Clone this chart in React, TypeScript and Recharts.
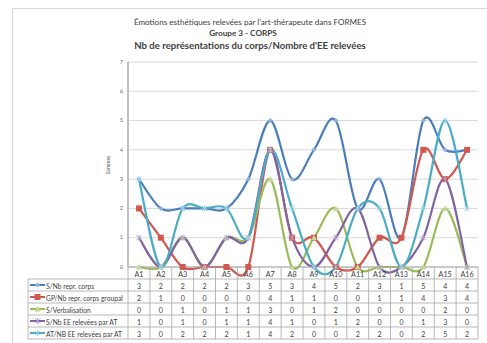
import React from 'react';
import { LineChart, Line, XAxis, YAxis, CartesianGrid } from 'recharts';

const categories = ['A1', 'A2', 'A3', 'A4', 'A5', 'A6', 'A7', 'A8', 'A9', 'A10', 'A11', 'A12', 'A13', 'A14', 'A15', 'A16'];
const nbReprCorps = [3, 2, 2, 2, 2, 3, 5, 3, 4, 5, 2, 3, 1, 5, 4, 4];
const nbReprCorpsGroupal = [2, 1, 0, 0, 0, 0, 4, 1, 1, 0, 0, 1, 1, 4, 3, 4];
const verbalisation = [0, 0, 1, 0, 1, 1, 3, 0, 1, 2, 0, 0, 0, 0, 2, 0];
const nbEeSujet = [1, 0, 1, 0, 1, 1, 4, 1, 0, 1, 2, 0, 0, 1, 3, 0];
const nbEeAt = [3, 0, 2, 2, 2, 1, 4, 2, 0, 0, 2, 2, 0, 2, 5, 2];
const yTicks = [0, 1, 2, 3, 4, 5, 6, 7];

const series = [
  { key: 'corps', name: 'S/Nb repr. corps', values: nbReprCorps, color: '#4A7EBB', light: '#8fb0dc', marker: 'diamond' },
  { key: 'groupal', name: 'GP/Nb repr. corps groupal', values: nbReprCorpsGroupal, color: '#D0584F', light: '#D0584F', marker: 'square' },
  { key: 'verbal', name: 'S/Verbalisation', values: verbalisation, color: '#9BBB59', light: '#c2d896', marker: 'triangle' },
  { key: 'eeSujet', name: 'S/Nb EE relevées par AT', values: nbEeSujet, color: '#8064A2', light: '#b39fcc', marker: 'star' },
  { key: 'eeAt', name: 'AT/NB EE relevées par AT', values: nbEeAt, color: '#4BACC6', light: '#98d3e3', marker: 'star' },
];

const data = categories.map((cat, i) => {
  const row: any = { cat };
  series.forEach((s) => { row[s.key] = s.values[i]; });
  return row;
});

// layout
const W = 487;
const H = 343;
const PLOT_LEFT = 128;
const PLOT_RIGHT = 478;
const PLOT_TOP = 62;
const AXIS_Y = 267;
const CAT_ROW_BOTTOM = 279;
const ROW_H = 12;
const TABLE_LEFT = 28;
const BAND = (PLOT_RIGHT - PLOT_LEFT) / categories.length;
const TABLE_BOTTOM = CAT_ROW_BOTTOM + ROW_H * series.length;
const GRID = '#a6a6a6';
const FONT = 'Lato, "Open Sans", sans-serif';

// Excel-like smoothed line (Catmull-Rom through the points)
const excelSmooth = (context: any) => {
  let pts: number[][] = [];
  return {
    areaStart() {},
    areaEnd() {},
    lineStart() { pts = []; },
    point(x: number, y: number) { pts.push([+x, +y]); },
    lineEnd() {
      const n = pts.length;
      if (!n) return;
      context.moveTo(pts[0][0], pts[0][1]);
      for (let i = 0; i < n - 1; i++) {
        const p0 = pts[Math.max(i - 1, 0)];
        const p1 = pts[i];
        const p2 = pts[i + 1];
        const p3 = pts[Math.min(i + 2, n - 1)];
        context.bezierCurveTo(
          p1[0] + (p2[0] - p0[0]) / 6, p1[1] + (p2[1] - p0[1]) / 6,
          p2[0] - (p3[0] - p1[0]) / 6, p2[1] - (p3[1] - p1[1]) / 6,
          p2[0], p2[1]
        );
      }
    },
  };
};

function Marker({ cx, cy, kind, color }: { cx: number; cy: number; kind: string; color: string }) {
  if (kind === 'diamond') {
    return <path d={`M${cx},${cy - 2.5}L${cx + 2.5},${cy}L${cx},${cy + 2.5}L${cx - 2.5},${cy}Z`} fill={color} />;
  }
  if (kind === 'square') {
    return <rect x={cx - 3} y={cy - 3} width={6} height={6} fill={color} />;
  }
  if (kind === 'triangle') {
    return <path d={`M${cx},${cy - 3}L${cx + 3},${cy + 2.5}L${cx - 3},${cy + 2.5}Z`} fill={color} />;
  }
  return (
    <path
      d={`M${cx - 2.5},${cy - 2.5}L${cx + 2.5},${cy + 2.5}M${cx + 2.5},${cy - 2.5}L${cx - 2.5},${cy + 2.5}M${cx},${cy - 3}L${cx},${cy + 3}`}
      stroke={color}
      strokeWidth={1}
    />
  );
}

function TableTick(props: any) {
  const { x, index } = props;
  const i = index;
  const left = x - BAND / 2;
  const right = x + BAND / 2;
  return (
    <g fontFamily={FONT}>
      <text x={x} y={(AXIS_Y + CAT_ROW_BOTTOM) / 2 + 1} textAnchor="middle" dominantBaseline="central" fontSize={7.2} fill="#404040">
        {categories[i]}
      </text>
      <line x1={left} x2={left} y1={AXIS_Y} y2={TABLE_BOTTOM} stroke={GRID} strokeWidth={0.8} />
      {i === categories.length - 1 && (
        <line x1={right} x2={right} y1={AXIS_Y} y2={TABLE_BOTTOM} stroke={GRID} strokeWidth={0.8} />
      )}
      {series.map((s, r) => (
        <text key={s.key} x={x} y={CAT_ROW_BOTTOM + r * ROW_H + ROW_H / 2 + 0.5} textAnchor="middle" dominantBaseline="central" fontSize={7} fill="#404040">
          {s.values[i]}
        </text>
      ))}
      {i === 0 && (
        <g>
          {series.map((_, r) => (
            <line key={'h' + r} x1={TABLE_LEFT} x2={PLOT_RIGHT} y1={CAT_ROW_BOTTOM + r * ROW_H} y2={CAT_ROW_BOTTOM + r * ROW_H} stroke={GRID} strokeWidth={0.8} />
          ))}
          <line x1={TABLE_LEFT} x2={PLOT_RIGHT} y1={TABLE_BOTTOM} y2={TABLE_BOTTOM} stroke={GRID} strokeWidth={0.8} />
          <line x1={TABLE_LEFT} x2={TABLE_LEFT} y1={CAT_ROW_BOTTOM} y2={TABLE_BOTTOM} stroke={GRID} strokeWidth={0.8} />
          {series.map((s, r) => {
            const cy = CAT_ROW_BOTTOM + r * ROW_H + ROW_H / 2;
            return (
              <g key={'l' + r}>
                <line x1={TABLE_LEFT + 2} x2={TABLE_LEFT + 17} y1={cy} y2={cy} stroke={s.color} strokeWidth={2} />
                <Marker cx={TABLE_LEFT + 9.5} cy={cy} kind={s.marker} color={s.marker === 'square' ? s.color : s.light} />
                <text x={TABLE_LEFT + 18} y={cy + 0.5} dominantBaseline="central" fontSize={6.7} fill="#404040">
                  {s.name}
                </text>
              </g>
            );
          })}
        </g>
      )}
    </g>
  );
}

export default function App() {
  return (
    <div style={{ position: 'absolute', left: 0, top: 0, width: W, height: H, background: '#fff', fontFamily: FONT, overflow: 'hidden' }}>
      <div style={{ position: 'absolute', left: 12, top: 8, width: 480, height: 334, border: '1px solid #d9d9d9' }} />
      <svg style={{ position: 'absolute', left: 0, top: 0 }} width={W} height={60}>
        <text x={250} y={25} textAnchor="middle" fontSize={8.1} fill="#404040" fontFamily={FONT}>
          Émotions esthétiques relevées par l'art-thérapeute dans FORMES
        </text>
        <text x={243} y={36} textAnchor="middle" fontSize={8.2} fontWeight="bold" fill="#404040" fontFamily={FONT}>
          Groupe 3 - CORPS
        </text>
        <text x={250} y={48.5} textAnchor="middle" fontSize={9.6} fontWeight="bold" fill="#404040" fontFamily={FONT}>
          Nb de représentations du corps/Nombre d'EE relevées
        </text>
      </svg>
      <div style={{ position: 'absolute', left: 0, top: 0 }}>
        <LineChart width={W} height={H} data={data} margin={{ top: PLOT_TOP, right: W - PLOT_RIGHT, bottom: 0, left: PLOT_LEFT - 20 }}>
          <CartesianGrid vertical={false} stroke="#d9d9d9" strokeWidth={1} />
          <XAxis
            dataKey="cat"
            height={H - AXIS_Y}
            padding={{ left: BAND / 2, right: BAND / 2 }}
            axisLine={{ stroke: GRID, strokeWidth: 1 }}
            tickLine={false}
            interval={0}
            tick={(p: any) => <TableTick {...p} />}
          />
          <YAxis
            width={20}
            domain={[0, 7]}
            ticks={yTicks}
            interval={0}
            axisLine={{ stroke: '#bfbfbf', strokeWidth: 2 }}
            tickLine={false}
            tickSize={5}
            tickMargin={0}
            tick={{ fontSize: 5, fill: '#595959', fontFamily: FONT }}
            label={{
              content: () => (
                <text x={110} y={165} transform="rotate(-90 110 165)" textAnchor="middle" fontSize={5} fill="#595959" fontFamily={FONT}>
                  Sommes
                </text>
              ),
            }}
          />
          {series.map((s) => (
            <Line
              key={s.key}
              dataKey={s.key}
              name={s.name}
              type={excelSmooth as any}
              stroke={s.color}
              strokeWidth={2.2}
              isAnimationActive={false}
              dot={(p: any) => (
                <Marker key={s.key + p.index} cx={p.cx} cy={p.cy} kind={s.marker} color={s.marker === 'square' ? s.color : s.light} />
              )}
              activeDot={false}
            />
          ))}
        </LineChart>
      </div>
    </div>
  );
}
